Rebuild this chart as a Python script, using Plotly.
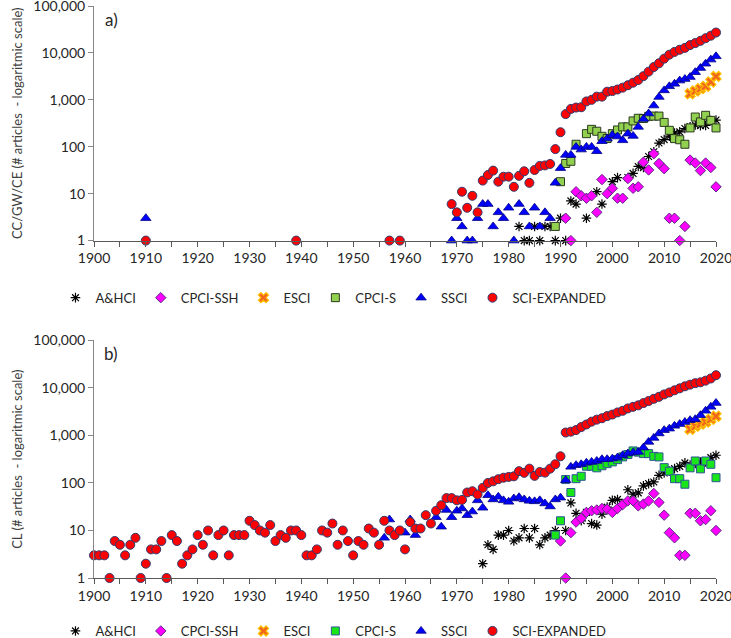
import plotly.graph_objects as go

# ---------------- panel a) CC/GW/CE ----------------
a_ahci_years = [1982, 1983, 1984, 1985, 1986, 1987, 1988, 1989, 1990, 1991, 1992, 1993, 1995, 1997, 1998,
                2000, 2001, 2003, 2004, 2005, 2006, 2007, 2008, 2009, 2010, 2011, 2012, 2013, 2014, 2015,
                2016, 2017, 2018, 2019, 2020]
a_ahci_vals = [2, 1, 1, 2, 1, 2, 2, 1, 3, 1, 7, 6, 3, 11, 6,
               18, 22, 22, 27, 38, 36, 62, 78, 120, 142, 168, 195, 207, 245, 265,
               290, 280, 285, 360, 370]

a_ssh_years = list(range(1991, 2021))
a_ssh_vals = [3, 1, 11, 9, 8, 9, 4, 20, 10, 13, 8, 8, 21, 13, 14, 47, 32, 71, 44, 34,
              3, 3, 1, 2, 52, 45, 31, 45, 36, 14]

a_esci_years = list(range(2015, 2021))
a_esci_vals = [1350, 1540, 1730, 1940, 2400, 3160]

a_cpcis_years = [1989, 1990, 1991, 1992, 1993] + list(range(1995, 2021))
a_cpcis_vals = [2, 18, 44, 49, 113, 190, 235, 214, 167, 150, 190, 228, 265, 265, 355,
                405, 400, 445, 450, 450, 330, 224, 149, 141, 113, 252, 430, 338, 468, 365, 252]

a_ssci_years = [1910] + list(range(1969, 2021))
a_ssci_vals = [3, 1, 3, 2, 1, 1, 3, 6, 6, 2, 4, 3, 5, 1, 6, 4, 2, 5, 2, 4, 3,
               17, 35, 67, 67, 99, 87, 99, 99, 80, 131, 149, 178, 165, 137, 190, 170,
               265, 390, 510, 755, 1150, 1590, 1940, 2190, 2570, 2770, 3060, 3880, 4750,
               5880, 7200, 8450]

a_sci_years = [1910, 1939, 1957, 1959] + list(range(1969, 2021))
a_sci_vals = [1, 1, 1, 1, 6, 4, 11, 5, 9, 4, 19, 25, 31, 18, 23, 23, 14, 24, 30, 17,
              32, 39, 40, 43, 89, 204, 496, 640, 685, 695, 925, 1000, 1170, 1170, 1490,
              1540, 1660, 1820, 2050, 2320, 2650, 3200, 3990, 5000, 6020, 7550, 9170,
              10500, 11700, 12800, 14700, 16200, 18100, 20600, 23300, 27200]

# ---------------- panel b) CL ----------------
b_ahci_years = list(range(1975, 1990)) + list(range(1991, 2021))
b_ahci_vals = [2, 5, 4, 8, 8, 10, 6, 7, 11, 7, 11, 5, 7, 8, 10,
               10, 38, 23, 16, 24, 14, 13, 22, 31, 43, 45, 37, 72, 58, 62,
               87, 97, 105, 145, 162, 179, 200, 224, 264, 237, 256, 277, 277, 341, 383]

b_ssh_years = list(range(1990, 2021))
b_ssh_vals = [6, 1, 9, 15, 18, 24, 26, 27, 29, 28, 24, 29, 35, 42, 42, 33, 36, 42, 60, 39,
              21, 9, 7, 3, 3, 23, 23, 16, 17, 26, 10]

b_esci_years = list(range(2015, 2021))
b_esci_vals = [1350, 1560, 1730, 1910, 2190, 2540]

b_cpcis_years = list(range(1989, 2021))
b_cpcis_vals = [8, 16, 118, 63, 123, 138, 225, 225, 208, 230, 255, 277, 310, 353, 397, 472,
                445, 415, 415, 363, 353, 210, 177, 123, 123, 94, 208, 290, 198, 290, 247, 129]

b_ssci_years = [1956, 1957, 1960, 1961, 1962] + list(range(1966, 2021))
b_ssci_vals = [7, 17, 9, 17, 8, 19, 12, 27, 19, 26, 29, 21, 25, 43, 30, 55, 45, 51, 43, 40,
               47, 50, 45, 42, 41, 43, 37, 32, 45, 49, 114, 218, 236, 247, 265, 277, 290,
               315, 315, 325, 343, 383, 415, 435, 450, 555, 730, 885, 1100, 1290, 1390,
               1590, 1730, 1910, 2090, 2190, 2660, 3300, 3990, 4800]

b_sci_years = list(range(1900, 2021))
b_sci_vals = [3, 3, 3, 1, 6, 5, 3, 5, 7, 1, 2, 4, 4, 6, 1, 8, 6, 2, 3, 4,
              8, 5, 10, 3, 8, 10, 3, 8, 8, 8, 16, 13, 10, 9, 13, 6, 8, 7, 10, 10,
              8, 3, 3, 4, 10, 9, 14, 5, 10, 6, 3, 6, 5, 11, 9, 5, 16, 10, 8, 10,
              4, 15, 11, 11, 21, 14, 26, 34, 48, 48, 43, 44, 63, 67, 57, 79, 100, 108, 120, 129,
              134, 138, 177, 163, 200, 141, 170, 165, 200, 248, 364,
              1150, 1200, 1300, 1500, 1700, 1950, 2150, 2300, 2550, 2750,
              3050, 3300, 3700, 4000, 4300, 4800, 5300, 5900, 6500, 7300,
              8000, 8900, 9800, 10800, 11700, 12600, 13100, 14200, 15800, 18500]

y_ticks = [1, 10, 100, 1000, 10000, 100000]
y_ticktext = ["1", "10", "100", "1,000", "10,000", "100,000"]
x_ticks = list(range(1900, 2021, 10))

FONT = "Lato"

styles = {
    "A&HCI": dict(symbol="asterisk-open", size=8, color="black", line=dict(color="black", width=1.2)),
    "CPCI-SSH": dict(symbol="diamond", size=8, color="#FF00FF", line=dict(color="#5B2C83", width=1)),
    "ESCI": dict(symbol="x", size=9, color="#F0661C", line=dict(color="#FFC000", width=1.2)),
    "CPCI-S": dict(symbol="square", size=8, color="#92D050", line=dict(color="#2B3A1E", width=1)),
    "SSCI": dict(symbol="triangle-up", size=9, color="#0000FF", line=dict(color="#000080", width=0.8)),
    "SCI-EXPANDED": dict(symbol="circle", size=9, color="#FF0000", line=dict(color="#2E3A6E", width=1)),
}
cpcis_b_style = dict(symbol="square", size=8, color="#19E619", line=dict(color="#2F5597", width=1))

fig = go.Figure()

panel_a = [
    ("A&HCI", a_ahci_years, a_ahci_vals),
    ("CPCI-SSH", a_ssh_years, a_ssh_vals),
    ("ESCI", a_esci_years, a_esci_vals),
    ("CPCI-S", a_cpcis_years, a_cpcis_vals),
    ("SSCI", a_ssci_years, a_ssci_vals),
    ("SCI-EXPANDED", a_sci_years, a_sci_vals),
]
panel_b = [
    ("A&HCI", b_ahci_years, b_ahci_vals),
    ("CPCI-SSH", b_ssh_years, b_ssh_vals),
    ("ESCI", b_esci_years, b_esci_vals),
    ("CPCI-S", b_cpcis_years, b_cpcis_vals),
    ("SSCI", b_ssci_years, b_ssci_vals),
    ("SCI-EXPANDED", b_sci_years, b_sci_vals),
]

for name, xs, ys in panel_a:
    fig.add_trace(go.Scatter(x=xs, y=ys, mode="markers", name=name, marker=styles[name],
                             xaxis="x", yaxis="y", legend="legend", cliponaxis=False))

for name, xs, ys in panel_b:
    st = cpcis_b_style if name == "CPCI-S" else styles[name]
    fig.add_trace(go.Scatter(x=xs, y=ys, mode="markers", name=name, marker=st,
                             xaxis="x2", yaxis="y2", legend="legend2", cliponaxis=False))

xaxis_common = dict(
    range=[1900, 2020], tickvals=x_ticks, showgrid=False, zeroline=False,
    showline=True, linecolor="#595959", linewidth=1.2,
    ticks="outside", ticklen=5, tickcolor="#595959",
    minor=dict(dtick=5, tick0=1900, ticks="outside", ticklen=5, tickcolor="#595959", showgrid=False),
    tickfont=dict(family=FONT, size=14, color="#262626"),
    ticklabeloverflow="allow", automargin=False,
)
yaxis_common = dict(
    type="log", range=[0, 5], tickvals=y_ticks, ticktext=y_ticktext, showgrid=False,
    zeroline=False, showline=True, linecolor="#868686", linewidth=1,
    ticks="outside", ticklen=5, tickcolor="#868686",
    tickfont=dict(family=FONT, size=14, color="#262626"),
    ticklabeloverflow="allow", automargin=False,
)

legend_common = dict(
    orientation="h", xanchor="center",
    font=dict(family=FONT, size=13, color="#262626"),
    itemwidth=30, bgcolor="rgba(0,0,0,0)", tracegroupgap=0,
)

fig.update_layout(
    width=731, height=638,
    margin=dict(l=94, r=15, t=6, b=60),
    paper_bgcolor="white", plot_bgcolor="white",
    xaxis=dict(domain=[0, 1], anchor="y", **xaxis_common),
    yaxis=dict(domain=[0.5899, 1], anchor="x",
               title=dict(text="CC/GW/CE (# articles  - logaritmic scale)", standoff=7,
                          font=dict(family=FONT, size=13, color="#404040")),
               **yaxis_common),
    xaxis2=dict(domain=[0, 1], anchor="y2", **xaxis_common),
    yaxis2=dict(domain=[0, 0.4154], anchor="x2",
                title=dict(text="CL (# articles  - logaritmic scale)", standoff=7,
                           font=dict(family=FONT, size=13, color="#404040")),
                **yaxis_common),
    legend=dict(x=0.385, y=0.49, yanchor="middle", **legend_common),
    legend2=dict(x=0.385, y=0.011, yref="container", yanchor="middle", **legend_common),
    annotations=[
        dict(text="a)", x=0.028, y=0.977, xref="paper", yref="paper", showarrow=False,
             xanchor="center", yanchor="middle", font=dict(family=FONT, size=17, color="#262626")),
        dict(text="b)", x=0.028, y=0.3927, xref="paper", yref="paper", showarrow=False,
             xanchor="center", yanchor="middle", font=dict(family=FONT, size=17, color="#262626")),
    ],
)

# the page body has a default 8px margin; drop it so the figure fills the window
fig.write_html("out.html", config={"displayModeBar": False},
               post_script="document.body.style.margin='0';")
